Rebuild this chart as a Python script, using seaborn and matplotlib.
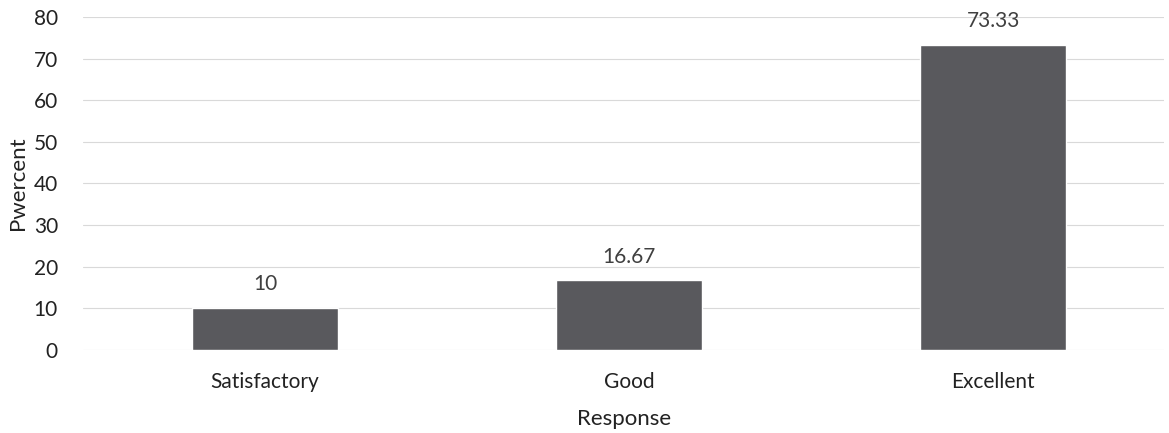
import matplotlib
matplotlib.use("Agg")
import matplotlib.pyplot as plt
import seaborn as sns
import pandas as pd

categories = ["Satisfactory", "Good", "Excellent"]
values = [10, 16.67, 73.33]
value_labels = ["10", "16.67", "73.33"]

sns.set_theme(style="white")
plt.rcParams['font.family'] = ['Lato', 'DejaVu Sans']

df = pd.DataFrame({"Response": categories, "Pwercent": values})

fig = plt.figure(figsize=(11.69, 4.33), dpi=100)
ax = fig.add_axes([0.071, 0.192, 0.925, 0.769])

sns.barplot(data=df, x="Response", y="Pwercent", color="#59595d", width=0.4,
            saturation=1, ax=ax, zorder=3)

for p, lab in zip(ax.patches, value_labels):
    ax.annotate(lab, (p.get_x() + p.get_width() / 2, p.get_height()),
                xytext=(0, 10), textcoords="offset points", ha="center",
                va="bottom", fontsize=15, color="#404040")

ax.set_ylim(0, 80)
ax.set_yticks(range(0, 81, 10))
ax.set_xlim(-0.5, 2.47)
ax.yaxis.grid(True, color="#d9d9d9", linewidth=0.8, zorder=0)
ax.set_axisbelow(True)
for s in ax.spines.values():
    s.set_visible(False)
ax.tick_params(axis="both", labelsize=15, colors="#222222", length=0)
ax.tick_params(axis="y", pad=18)
ax.tick_params(axis="x", pad=16)
ax.set_xlabel("Response", fontsize=16, color="#222222", labelpad=12)
ax.set_ylabel("Pwercent", fontsize=16, color="#222222", labelpad=4)

fig.savefig("out.png", dpi=100)
